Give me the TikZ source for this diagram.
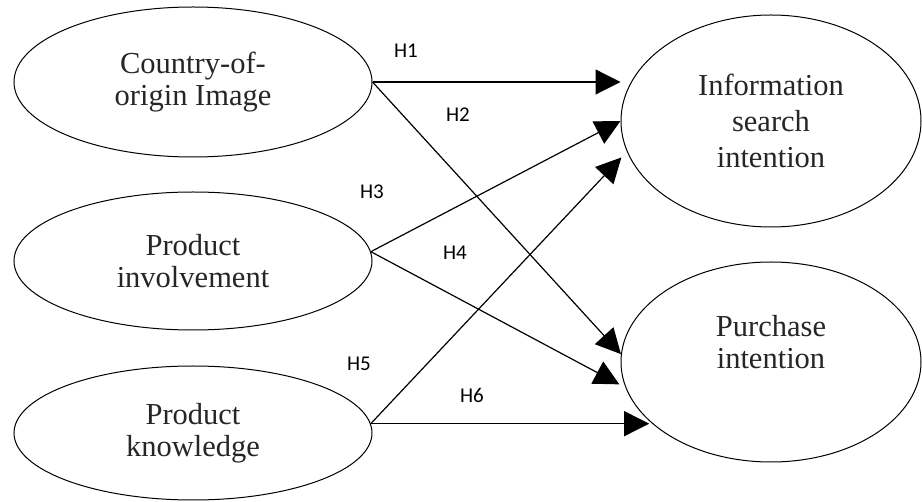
\documentclass[tikz,border=0pt]{standalone}
\usepackage{fontspec}
\setmainfont{Liberation Serif}
\newfontfamily\hypfont{Carlito}
\usetikzlibrary{shapes.geometric,arrows.meta}

\begin{document}
\begin{tikzpicture}[x=1pt,y=-1pt,
  oval/.style={ellipse,draw,line width=1pt,inner sep=0pt,align=center,
    text=black!85,font=\fontsize{30.5}{31.5}\selectfont},
  link/.style={draw,line width=1.2pt,-{Triangle[length=25pt,width=25pt]}},
  hyp/.style={font=\hypfont\fontsize{21}{21}\selectfont}]
\useasboundingbox (0,0) rectangle (922,502);
% constructs
\node[oval,minimum width=358pt,minimum height=150pt] (coo) at (193,82) {Country-of-\\origin Image};
\node[oval,minimum width=358pt,minimum height=138pt] (inv) at (193,261) {Product\\involvement};
\node[oval,minimum width=358pt,minimum height=134pt] (know) at (193,433) {Product\\knowledge};
\node[oval,minimum width=300pt,minimum height=212pt,
      font=\fontsize{30.5}{36}\selectfont] (info) at (771,121) {Information\\search\\intention};
\node[oval,minimum width=300pt,minimum height=200pt] (pur) at (771,362) {};
\node[align=center,text=black!85,font=\fontsize{30.5}{31.5}\selectfont]
      (purtext) at ([yshift=20pt]pur.center) {Purchase\\intention};
% hypotheses
\draw[link] (coo.east) -- (coo.east -| info.west);
\draw[link] (coo.east) -- (pur.177);
\draw[link] (inv.3) -- (info.west);
\draw[link,shorten >=7pt] (inv.3) -- (pur.190);
\draw[link,shorten >=8pt] (know.3) -- (info.192);
\draw[link,shorten >=8pt] (know.3) -- (know.3 -| pur.210);
\node[hyp] (h1) at (406,51) {H1};
\node[hyp] (h2) at (458,115) {H2};
\node[hyp] (h3) at (372,192) {H3};
\node[hyp] (h4) at (455,253) {H4};
\node[hyp] (h5) at (359,364) {H5};
\node[hyp] (h6) at (472,395) {H6};
\end{tikzpicture}
\end{document}
